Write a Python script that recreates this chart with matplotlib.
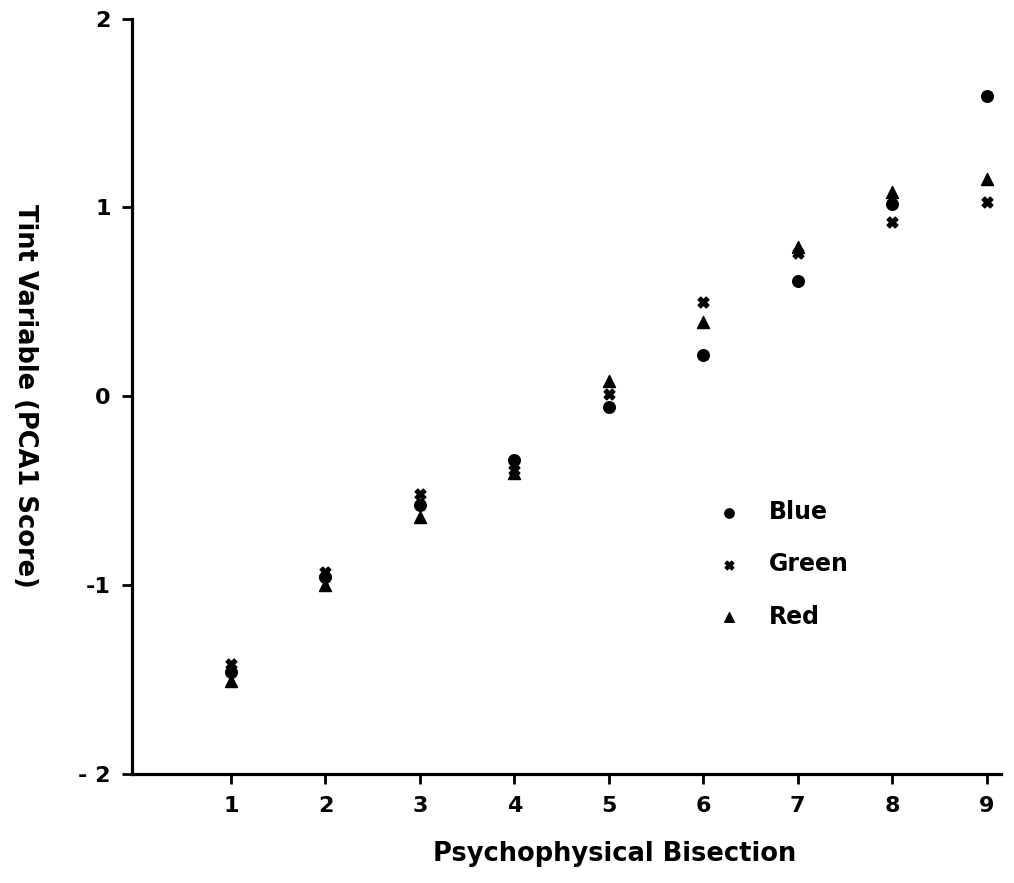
import matplotlib
matplotlib.use("Agg")
import matplotlib.pyplot as plt

x_vals = [1, 2, 3, 4, 5, 6, 7, 8, 9]
blue = [-1.46, -0.96, -0.58, -0.34, -0.06, 0.22, 0.61, 1.02, 1.59]
green = [-1.42, -0.93, -0.52, -0.39, 0.01, 0.50, 0.76, 0.92, 1.03]
red = [-1.51, -1.00, -0.64, -0.41, 0.08, 0.39, 0.79, 1.08, 1.15]
x_ticks = [1, 2, 3, 4, 5, 6, 7, 8, 9]
y_ticks = [-2, -1, 0, 1, 2]
y_tick_labels = ["- 2", "-1", "0", "1", "2"]

plt.rcParams['font.family'] = ['DejaVu Sans']

fig = plt.figure(figsize=(10.14, 8.83), dpi=100)
ax = fig.add_axes([0.130, 0.124, 0.857, 0.855])

ax.scatter(x_vals, blue, marker='o', s=70, color='black', label='Blue', zorder=3)
ax.scatter(x_vals, green, marker='X', s=60, color='black', label='Green', zorder=3)
ax.scatter(x_vals, red, marker='^', s=75, color='black', label='Red', zorder=3)

ax.set_xlim(-0.05, 9.15)
ax.set_ylim(-2, 2)
ax.set_xticks(x_ticks)
ax.set_xticklabels([str(t) for t in x_ticks])
ax.set_yticks(y_ticks)
ax.set_yticklabels(y_tick_labels)

for s in ['top', 'right']:
    ax.spines[s].set_visible(False)
for s in ['left', 'bottom']:
    ax.spines[s].set_linewidth(2.3)

ax.tick_params(axis='x', direction='out', length=7, width=2, labelsize=16, pad=9)
ax.tick_params(axis='y', direction='out', length=7, width=2, labelsize=16, pad=8)
for lab in ax.get_xticklabels() + ax.get_yticklabels():
    lab.set_fontweight('bold')

ax.set_xlabel('Psychophysical Bisection', fontsize=18.5, fontweight='bold')
ax.xaxis.set_label_coords(0.556, -0.106)
ax.xaxis.label.set_va('center')
ax.set_ylabel('Tint Variable (PCA1 Score)', fontsize=18.5, fontweight='bold',
              rotation=270)
ax.yaxis.set_label_coords(-0.123, 0.5)
ax.yaxis.label.set_va('center')
ax.yaxis.label.set_ha('center')

leg = ax.legend(loc='upper left', bbox_to_anchor=(0.663, 0.375), frameon=False,
                fontsize=17, handlelength=1.0, handletextpad=1.2,
                labelspacing=1.2, markerscale=0.8, borderaxespad=0)
for t in leg.get_texts():
    t.set_fontweight('bold')

fig.savefig('out.png', dpi=100)
